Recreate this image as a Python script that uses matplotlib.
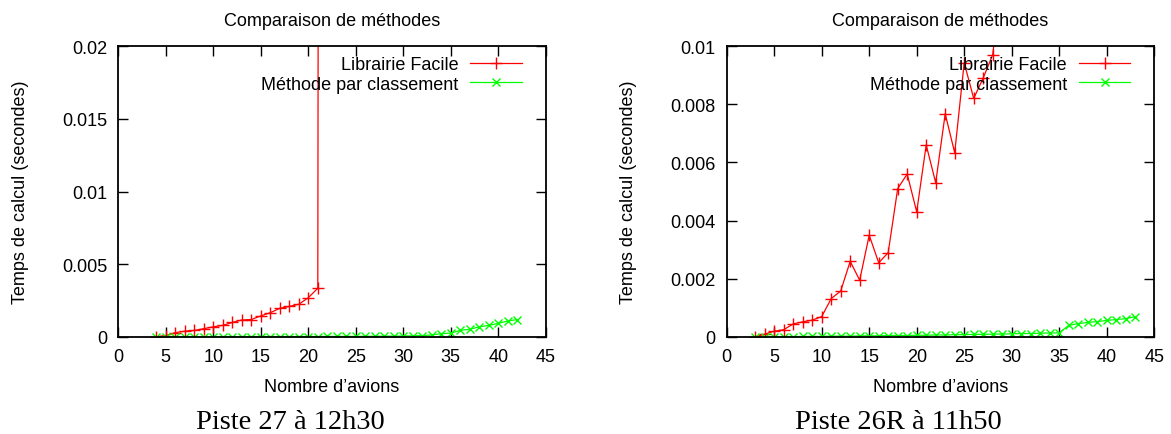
import matplotlib
matplotlib.use("Agg")
import matplotlib.pyplot as plt
from matplotlib.ticker import FuncFormatter, MultipleLocator

# run 1 : Piste 27 a 12h30
x_facile_27 = [4, 5, 6, 7, 8, 9, 10, 11, 12, 13, 14, 15, 16, 17, 18, 19, 20, 21, 22]
y_facile_27 = [0.00002, 0.0001, 0.0003, 0.0004, 0.00045, 0.00057, 0.0007, 0.0008, 0.001,
               0.00117, 0.0012, 0.00145, 0.00167, 0.00197, 0.0021, 0.00225, 0.0027,
               0.00335, 0.5]
x_classement_27 = list(range(4, 43))
y_classement_27 = [0.00001, 0.00001, 0.00001, 0.00001, 0.00002, 0.00002, 0.00002, 0.00002,
                   0.00002, 0.00002, 0.00002, 0.00003, 0.00003, 0.00003, 0.00003, 0.00003,
                   0.00003, 0.00003, 0.00004, 0.00004, 0.00004, 0.00004, 0.00005, 0.00005,
                   0.00006, 0.00006, 0.00007, 0.00008, 0.0001, 0.00014, 0.00023, 0.00027,
                   0.00046, 0.00053, 0.0007, 0.0008, 0.00094, 0.0011, 0.0012]

# run 2 : Piste 26R a 11h50
x_facile_26 = list(range(3, 30))
y_facile_26 = [0.0, 0.0001, 0.0002, 0.00025, 0.00045, 0.00052, 0.00058, 0.0007, 0.00132,
               0.00158, 0.0026, 0.00195, 0.0035, 0.00255, 0.0029, 0.0051, 0.0056, 0.0043,
               0.0066, 0.0053, 0.00767, 0.00633, 0.00942, 0.0082, 0.0089, 0.0097, 0.0125]
x_classement_26 = list(range(3, 44))
y_classement_26 = [0.0, 0.0, 0.00001, 0.00001, 0.00001, 0.00002, 0.00002, 0.00002, 0.00003,
                   0.00003, 0.00003, 0.00004, 0.00004, 0.00004, 0.00005, 0.00005, 0.00005,
                   0.00006, 0.00006, 0.00007, 0.00007, 0.00008, 0.00008, 0.00009, 0.00009,
                   0.0001, 0.0001, 0.00011, 0.00012, 0.00012, 0.00013, 0.00014, 0.00014,
                   0.0004, 0.00046, 0.0005, 0.00053, 0.00057, 0.0006, 0.00063, 0.0007]

plt.rcParams["font.family"] = ["Liberation Sans", "DejaVu Sans"]
fs = 13

fig = plt.figure(figsize=(11.71, 4.35), dpi=100)


def panel(left, xf, yf, xc, yc, ymax, ystep, caption, cap_x):
    ax = fig.add_axes([left / 1171, (435 - 338) / 435, 427.5 / 1171, 291 / 435])
    ax.plot(xf, yf, color="#ff0000", marker="+", markersize=8, linewidth=0.9,
            markeredgewidth=1.0, label="Librairie Facile")
    ax.plot(xc, yc, color="#00ff00", marker="x", markersize=6, linewidth=0.9,
            markeredgewidth=1.0, label="Méthode par classement")
    ax.set_xlim(0, 45)
    ax.set_ylim(0, ymax)
    ax.xaxis.set_major_locator(MultipleLocator(5))
    ax.yaxis.set_major_locator(MultipleLocator(ystep))
    ax.yaxis.set_major_formatter(FuncFormatter(lambda v, p: "%g" % round(v, 6)))
    ax.tick_params(direction="in", length=7, width=1, top=True, right=True,
                   labelsize=fs, pad=8)
    for s in ax.spines.values():
        s.set_linewidth(1.3)
    ax.set_title("Comparaison de méthodes", fontsize=fs, pad=15)
    ax.set_xlabel("Nombre d’avions", fontsize=fs, labelpad=9)
    ax.set_ylabel("Temps de calcul (secondes)", fontsize=fs, labelpad=24)
    ax.legend(loc="upper right", bbox_to_anchor=(0.944, 0.964), markerfirst=False,
              frameon=False, fontsize=fs, handlelength=2.85, handletextpad=0.65,
              labelspacing=0.12, borderpad=0, borderaxespad=0)
    fig.text(cap_x / 1171, 1 - 429.5 / 435, caption, ha="center", va="baseline",
             fontsize=20.5, family="Liberation Serif")
    return ax


panel(118.3, x_facile_27, y_facile_27, x_classement_27, y_classement_27, 0.02, 0.005,
      "Piste 27 à 12h30", 290)
panel(726.7, x_facile_26, y_facile_26, x_classement_26, y_classement_26, 0.01, 0.002,
      "Piste 26R à 11h50", 898)

fig.savefig("out.png", dpi=100)
